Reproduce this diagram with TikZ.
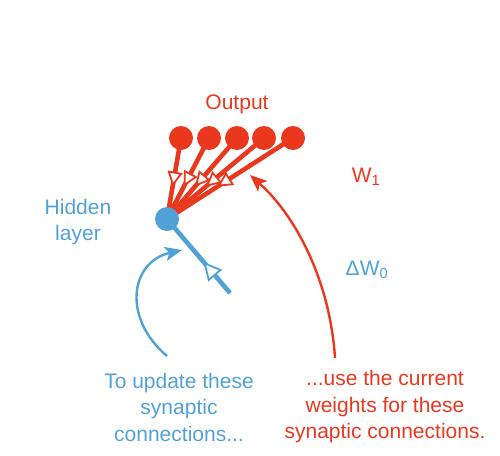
\documentclass[tikz,border=0pt]{standalone}
\usepackage{fontspec}
\setmainfont{Liberation Sans}
\usetikzlibrary{arrows.meta, decorations.markings, backgrounds}
\definecolor{outred}{RGB}{234,56,30}
\definecolor{hidblue}{RGB}{80,162,214}
\tikzset{
  unit/.style={circle, inner sep=0pt, minimum size=24pt},
  weight/.style 2 args={line width=4.6pt, postaction={decorate},
    decoration={markings, mark=at position #1 with
      {\arrow{Triangle[length=#2,width=#2,fill=white,line width=1.8pt]}}}},
  note/.style={line width=2.4pt, -{Stealth[length=17pt,width=14pt,inset=4pt]}}
}

\begin{document}
\begin{tikzpicture}[x=1pt,y=-1pt,font=\fontsize{21}{26.5}\selectfont]
    \useasboundingbox (0,0) rectangle (500,455);
    % ---- units ----
    \foreach \i/\x in {1/181,2/209,3/237,4/264,5/293}
        \node[unit, fill=outred] (o\i) at (\x,138) {};
    \node[unit, fill=hidblue] (h) at (167,219) {};
    \coordinate (dw) at (230,293);
    % ---- weights ----
    \begin{pgfonlayer}{background}
        \foreach \i in {1,...,5}
            \draw[outred, weight={0.6}{15pt}] (o\i.center) -- (h.center);
        \draw[hidblue, weight={0.42}{18pt}] (dw) -- (h.center);
    \end{pgfonlayer}
    % ---- labels ----
    \node[outred] (out) at (237,104) {Output};
    \node[outred] (w1) at (366,177) {W\textsubscript{1}};
    \node[hidblue, align=center] (hid) at (78,222) {Hidden\\layer};
    \node[hidblue] (dw0) at (367,270) {ΔW\textsubscript{0}};
    \node[hidblue, align=center] (upd) at (179,407) {To update these\\synaptic\\connections...};
    \node[outred, align=center] (use) at (385,407) {...use the current\\weights for these\\synaptic connections.};
    % ---- notes ----
    \coordinate (b0) at (167,356);
    \coordinate (b1) at (182,250);
    \coordinate (r0) at (335,358);
    \coordinate (r1) at (250,175);
    \draw[hidblue, note] (b0) .. controls (122,318) and (130,262) .. (b1);
    \draw[outred, note] (r0) .. controls (330,280) and (295,215) .. (r1);
\end{tikzpicture}
\end{document}
